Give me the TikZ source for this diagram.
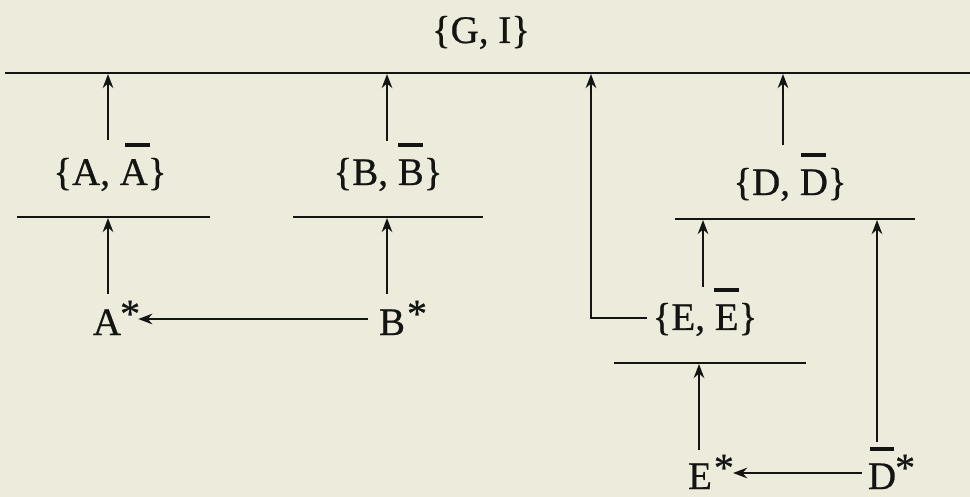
\documentclass[tikz,border=0pt]{standalone}
\usepackage{fontspec}
\setmainfont[FakeBold=0.6]{Liberation Serif}
\usetikzlibrary{arrows.meta,calc}
\definecolor{paper}{RGB}{237,235,220}
\definecolor{ink}{RGB}{20,20,18}
% letter with a thick bar over it; optional shift of the bar
\newcommand\tbar[2][0pt]{\setbox0=\hbox{#2}\rlap{\hbox to \wd0{\hss\kern#1\raisebox{0.97em}{\rule{0.64em}{0.11em}}\hss}}\box0}
\newcommand\st[1][0pt]{\rlap{\kern#1\raisebox{8pt}{\fontsize{40}{40}\selectfont *}}}
\begin{document}
\begin{tikzpicture}[x=1pt,y=-1pt,
  txt/.style={inner sep=0pt,anchor=base,text=ink,font=\fontsize{39}{46}\selectfont},
  bar/.style={draw=ink,line width=2.5pt},
  arr/.style={draw=ink,line width=2.5pt,-{Stealth[length=14pt,width=10.5pt,inset=4.5pt]}}]
\fill[paper] (0,0) rectangle (970,497);
\useasboundingbox (0,0) rectangle (970,497);
% horizontal lines
\coordinate (TL) at (5,73);   \coordinate (TR) at (970,73);
\coordinate (la1) at (17,217); \coordinate (la2) at (210,217);
\coordinate (lb1) at (293,217); \coordinate (lb2) at (483,217);
\coordinate (ld1) at (675,219); \coordinate (ld2) at (915,219);
\coordinate (le1) at (614,363); \coordinate (le2) at (806,363);
\draw[bar] (TL) -- (TR);
\draw[bar] (la1) -- (la2);
\draw[bar] (lb1) -- (lb2);
\draw[bar] (ld1) -- (ld2);
\draw[bar] (le1) -- (le2);
% arrow tips on lines
\coordinate (ta) at (108,74);  \coordinate (tb) at (387,74);
\coordinate (te) at (591,74);  \coordinate (td) at (783,74);
\coordinate (ta2) at (108,218); \coordinate (tb2) at (387,218);
\coordinate (td2) at (703,220); \coordinate (td3) at (877,220);
\coordinate (te2) at (699,364);
% nodes
\node[txt] (G)  at (481,43)  {\{G, I\}};
\node[txt] (nA) at (110,185) {\{A, \tbar[8pt]{A}\}};
\node[txt] (nB) at (388,185) {\{B, \tbar{B}\}};
\node[txt] (nD) at (790,195) {\{D, \tbar{D}\}};
\node[txt] (nE) at (705,330) {\{E, \tbar{E}\}};
\node[txt] (As) at (107,335) {A\st[-1pt]};
\node[txt] (Bs) at (392,335) {B\st[2pt]};
\node[txt] (Es) at (700,489) {E\st[2pt]};
\node[txt] (Ds) at (882,489) {\tbar{D}\st[-1pt]};
% connectors
\draw[arr] ($(ta |- nA.north)+(0,-3)$) -- (ta);
\draw[arr] ($(tb |- nB.north)+(0,-2)$) -- (tb);
\draw[arr] ($(td |- nD.north)+(0,-8)$) -- (td);
\draw[arr] ($(ta2 |- As.north)+(0,-7)$) -- (ta2);
\draw[arr] ($(tb2 |- Bs.north)+(0,-7)$) -- (tb2);
\draw[arr] ($(td2 |- nE.north)+(0,-1)$) -- (td2);
\draw[arr] ($(te2 |- Es.north)+(0,-5)$) -- (te2);
\draw[arr] ($(td3 |- Ds.north)+(0,-5)$) -- (td3);
\draw[arr] ($(nE.base west)+(-6,-12)$) -| (te);
\draw[arr] ($(Bs.base west)+(-11,-16)$) -- ($(As.base east)+(17,-16)$);
\draw[arr] ($(Ds.base west)+(-6,-16)$) -- ($(Es.base east)+(21,-16)$);
\end{tikzpicture}
\end{document}
